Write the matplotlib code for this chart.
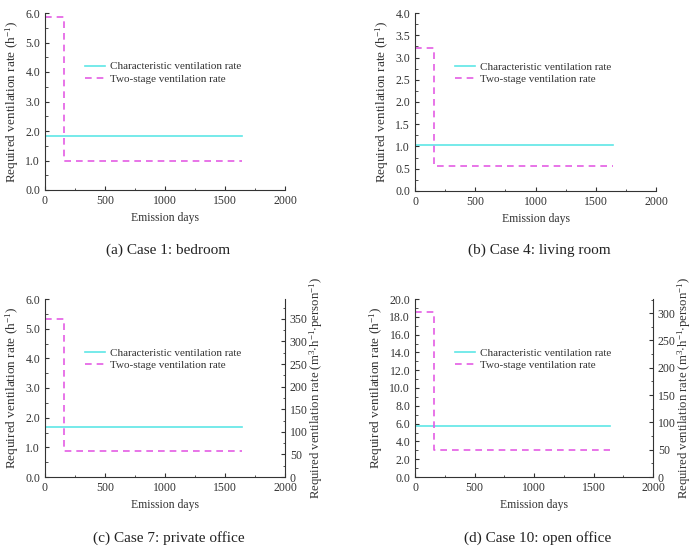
import matplotlib
matplotlib.use("Agg")
import matplotlib.pyplot as plt
from matplotlib.ticker import MultipleLocator

plt.rcParams["font.family"] = ["Liberation Serif", "DejaVu Serif"]
plt.rcParams["mathtext.fontset"] = "custom"
plt.rcParams["mathtext.rm"] = "Liberation Serif"
plt.rcParams["mathtext.default"] = "regular"

# data
switch_day = 160
end_day = 1640
captions = ["(a) Case 1: bedroom", "(b) Case 4: living room",
            "(c) Case 7: private office", "(d) Case 10: open office"]
char_rate = [1.82, 1.04, 1.68, 5.7]
stage1_rate = [5.85, 3.21, 5.31, 18.5]
stage2_rate = [1.0, 0.57, 0.89, 3.0]
y_max = [6.0, 4.0, 6.0, 20.0]
y_major = [1.0, 0.5, 1.0, 2.0]
# right axis (per person) max, None = no right axis
right_max = [None, None, 394, 326]

cyan = "#5ee6e6"
magenta = "#e45ce4"

fig = plt.figure(figsize=(6.94, 5.51), dpi=100)
W, H = 694, 551
# axes boxes in pixels: left, top, right, bottom
boxes = [(45, 13, 285, 190), (415, 13, 656, 191),
         (45, 299, 285, 477), (415, 299, 653, 477)]

for i in range(4):
    l, t, r, b = boxes[i]
    ax = fig.add_axes([l / W, 1 - b / H, (r - l) / W, (b - t) / H])
    ax.plot([0, end_day], [char_rate[i], char_rate[i]], color=cyan, lw=1.2,
            label="Characteristic ventilation rate")
    ax.plot([0, switch_day, switch_day, end_day],
            [stage1_rate[i], stage1_rate[i], stage2_rate[i], stage2_rate[i]],
            color=magenta, lw=1.2, linestyle=(0, (4, 3)),
            label="Two-stage ventilation rate")
    ax.set_xlim(0, 2000)
    ax.set_ylim(0, y_max[i])
    ax.xaxis.set_major_locator(MultipleLocator(500))
    ax.xaxis.set_minor_locator(MultipleLocator(250))
    ax.yaxis.set_major_locator(MultipleLocator(y_major[i]))
    ax.yaxis.set_minor_locator(MultipleLocator(y_major[i] / 2))
    ax.yaxis.set_major_formatter(plt.FormatStrFormatter("%.1f"))
    ax.spines["top"].set_visible(False)
    ax.spines["right"].set_visible(False)
    for s in ["left", "bottom"]:
        ax.spines[s].set_color("#333333")
    ax.tick_params(which="both", direction="in", labelsize=8.5, colors="#333333")
    ax.tick_params(which="major", length=3)
    ax.tick_params(which="minor", length=1.8)
    ax.set_xlabel("Emission days", fontsize=8.5, color="#333333")
    ax.set_ylabel("Required ventilation rate (h$^{-1}$)", fontsize=9.5,
                  color="#333333", labelpad=3)
    ax.legend(loc="upper left", bbox_to_anchor=(0.167, 0.725), frameon=False,
              fontsize=8, borderpad=0, borderaxespad=0, handlelength=1.8,
              handletextpad=0.45, labelspacing=0.25, labelcolor="#333333")

    if right_max[i] is not None:
        ax2 = ax.twinx()
        ax2.set_ylim(0, right_max[i])
        ax2.yaxis.set_major_locator(MultipleLocator(50))
        ax2.yaxis.set_minor_locator(MultipleLocator(25))
        ax2.spines["top"].set_visible(False)
        ax2.spines["left"].set_visible(False)
        ax2.spines["bottom"].set_visible(False)
        ax2.spines["right"].set_color("#333333")
        ax2.tick_params(which="both", direction="in", labelsize=8.5, colors="#333333")
        ax2.tick_params(which="major", length=3)
        ax2.tick_params(which="minor", length=1.8)
        ax2.set_ylabel(r"Required ventilation rate (m$^{3}$$\cdot$h$^{-1}$$\cdot$person$^{-1}$)",
                       fontsize=9.2, color="#333333", labelpad=0)

    cap_y = 1 - (250 if i < 2 else 538) / H
    fig.text((l + r) / 2 / W + 0.005, cap_y, captions[i], ha="center", va="center",
             fontsize=11, color="#222222")

fig.savefig("out.png", dpi=100)
